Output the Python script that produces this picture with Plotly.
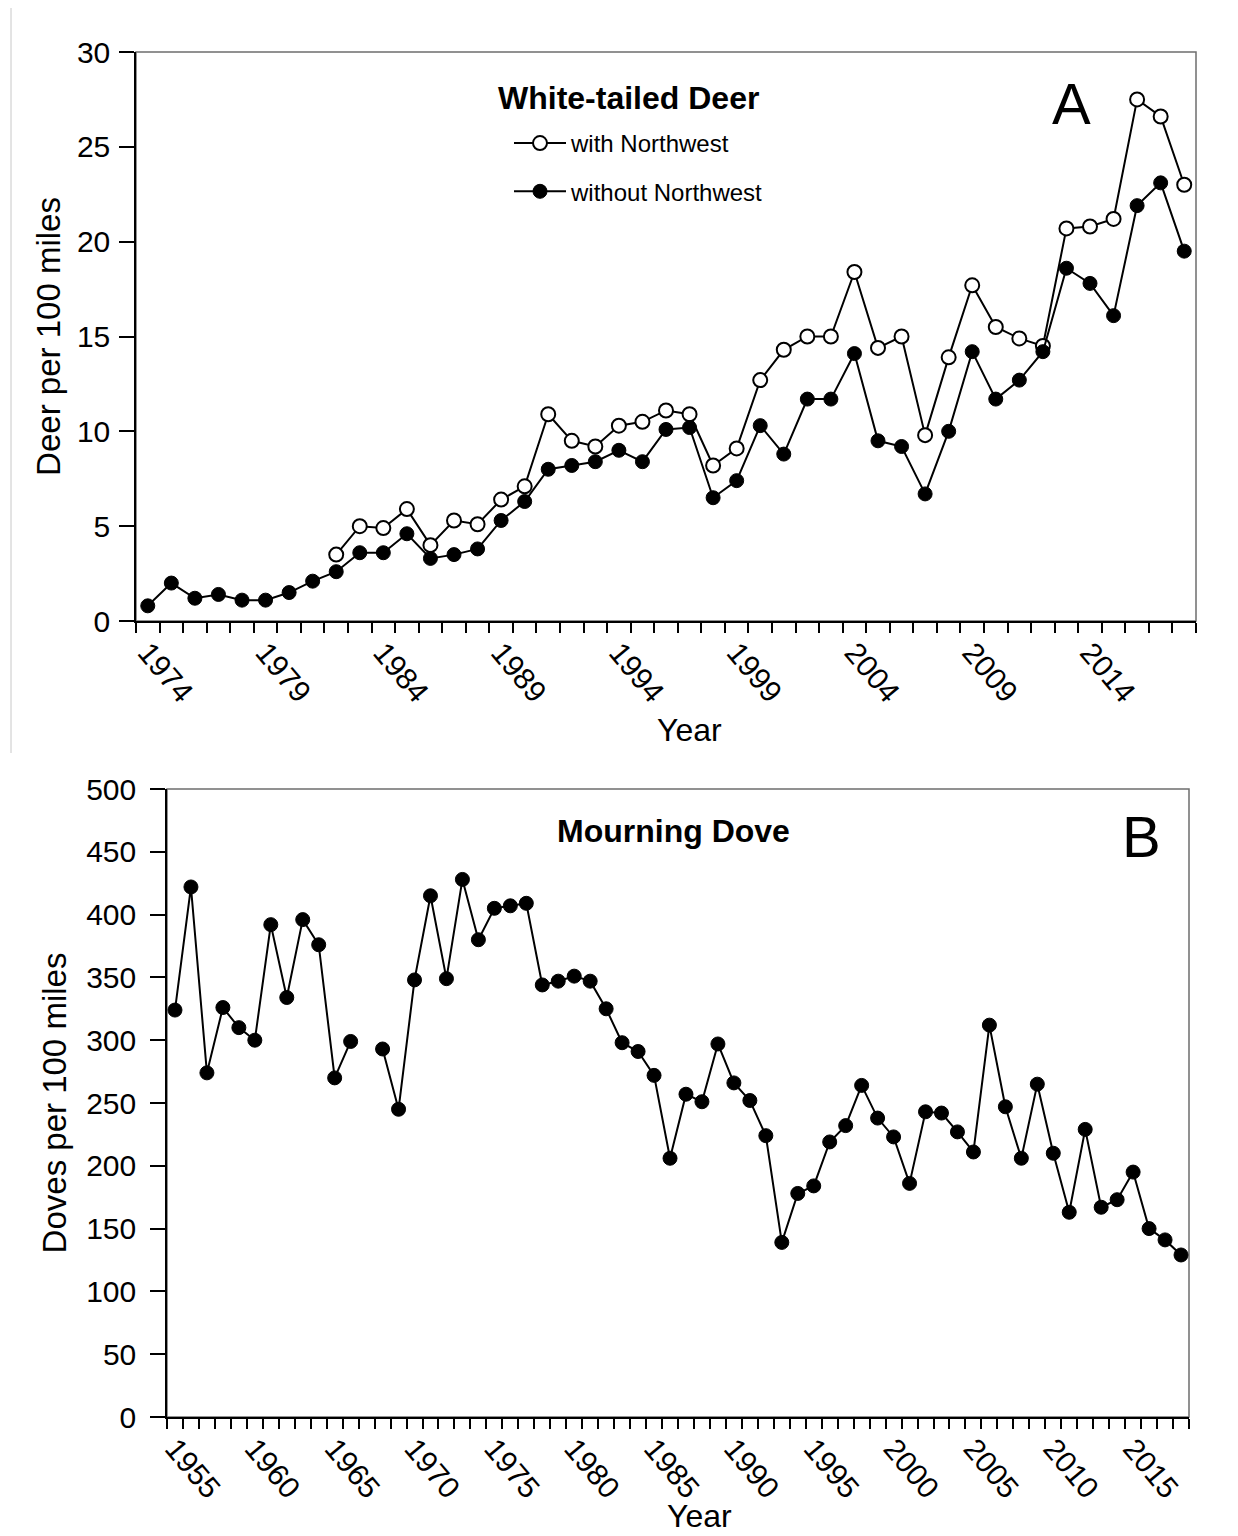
import plotly.graph_objects as go

# ---------------- data ----------------
deer_years = list(range(1974, 2019))
deer_without_nw = [0.8, 2.0, 1.2, 1.4, 1.1, 1.1, 1.5, 2.1, 2.6, 3.6,
                   3.6, 4.6, 3.3, 3.5, 3.8, 5.3, 6.3, 8.0, 8.2, 8.4,
                   9.0, 8.4, 10.1, 10.2, 6.5, 7.4, 10.3, 8.8, 11.7, 11.7,
                   14.1, 9.5, 9.2, 6.7, 10.0, 14.2, 11.7, 12.7, 14.2, 18.6,
                   17.8, 16.1, 21.9, 23.1, 19.5]
nw_years = list(range(1982, 2019))
deer_with_nw = [3.5, 5.0, 4.9, 5.9, 4.0, 5.3, 5.1, 6.4, 7.1, 10.9,
                9.5, 9.2, 10.3, 10.5, 11.1, 10.9, 8.2, 9.1, 12.7, 14.3,
                15.0, 15.0, 18.4, 14.4, 15.0, 9.8, 13.9, 17.7, 15.5, 14.9,
                14.5, 20.7, 20.8, 21.2, 27.5, 26.6, 23.0]

dove_years = list(range(1955, 2019))
dove_values = [324, 422, 274, 326, 310, 300, 392, 334, 396, 376,
               270, 299, None, 293, 245, 348, 415, 349, 428, 380,
               405, 407, 409, 344, 347, 351, 347, 325, 298, 291,
               272, 206, 257, 251, 297, 266, 252, 224, 139, 178,
               184, 219, 232, 264, 238, 223, 186, 243, 242, 227,
               211, 312, 247, 206, 265, 210, 163, 229, 167, 173,
               195, 150, 141, 129]

deer_tick_years = list(range(1974, 2015, 5))
dove_tick_years = list(range(1955, 2016, 5))

FONT = "Liberation Sans, Arial, sans-serif"
W, H = 1238, 1536

def px(x):
    return x / W

def py(y):
    return 1 - y / H

fig = go.Figure()

fig.add_trace(go.Scatter(
    x=nw_years, y=deer_with_nw, mode="lines+markers", name="with Northwest",
    line=dict(color="black", width=2),
    marker=dict(size=14, color="white", line=dict(color="black", width=2)),
    xaxis="x", yaxis="y", legendgroup="a"))
fig.add_trace(go.Scatter(
    x=deer_years, y=deer_without_nw, mode="lines+markers", name="without Northwest",
    line=dict(color="black", width=2),
    marker=dict(size=14, color="black", line=dict(color="black", width=1)),
    xaxis="x", yaxis="y", legendgroup="b"))
fig.add_trace(go.Scatter(
    x=dove_years, y=dove_values, mode="lines+markers", name="Mourning Dove",
    connectgaps=False, showlegend=False,
    line=dict(color="black", width=2),
    marker=dict(size=14, color="black", line=dict(color="black", width=1)),
    xaxis="x2", yaxis="y2"))

axis_common = dict(showgrid=False, zeroline=False, showline=True,
                   linecolor="black", linewidth=1.5, automargin=False)

fig.update_layout(
    width=W, height=H,
    margin=dict(l=0, r=0, t=0, b=0),
    paper_bgcolor="white", plot_bgcolor="white",
    font=dict(family=FONT, color="black"),
    showlegend=True,
    legend=dict(x=px(501), y=py(113), xanchor="left", yanchor="top",
                font=dict(size=24, family=FONT), bgcolor="rgba(0,0,0,0)",
                itemwidth=52, tracegroupgap=14, traceorder="grouped"),
    xaxis=dict(domain=[px(128), px(1188)], anchor="y", range=[1973.5, 2018.5],
               tickmode="array", tickvals=deer_tick_years,
               ticktext=[str(v) for v in deer_tick_years],
               ticks="", tickangle=50, tickfont=dict(size=30),
               minor=dict(ticks="outside", tickmode="linear", tick0=1973.5, dtick=1,
                          ticklen=10, tickwidth=1.5, tickcolor="black", showgrid=False),
               **axis_common),
    yaxis=dict(domain=[py(613), py(44)], anchor="x", range=[0, 30],
               tickmode="linear", tick0=0, dtick=5, ticks="outside", ticklen=15,
               tickwidth=1.5, tickcolor="black", tickfont=dict(size=30),
               ticklabelstandoff=3,
               title=dict(text="Deer per 100 miles", font=dict(size=33), standoff=6),
               **axis_common),
    xaxis2=dict(domain=[px(159), px(1181)], anchor="y2", range=[1954.5, 2018.5],
                tickmode="array", tickvals=dove_tick_years,
                ticktext=[str(v) for v in dove_tick_years],
                ticks="", tickangle=50, tickfont=dict(size=30),
                minor=dict(ticks="outside", tickmode="linear", tick0=1954.5, dtick=1,
                           ticklen=10, tickwidth=1.5, tickcolor="black", showgrid=False),
                **axis_common),
    yaxis2=dict(domain=[py(1409), py(781)], anchor="x2", range=[0, 500],
                tickmode="linear", tick0=0, dtick=50, ticks="outside", ticklen=15,
                tickwidth=1.5, tickcolor="black", tickfont=dict(size=30),
                ticklabelstandoff=8,
                title=dict(text="Doves per 100 miles", font=dict(size=33), standoff=10),
                **axis_common),
    shapes=[
        dict(type="rect", xref="x domain", yref="y domain", x0=0, x1=1, y0=0, y1=1,
             line=dict(color="#6e6e6e", width=1.5), layer="below"),
        dict(type="rect", xref="x2 domain", yref="y2 domain", x0=0, x1=1, y0=0, y1=1,
             line=dict(color="#6e6e6e", width=1.5), layer="below"),
        dict(type="line", xref="paper", yref="paper", x0=px(3), x1=px(3),
             y0=py(0), y1=py(745), line=dict(color="#c8c8c8", width=1)),
    ],
    annotations=[
        dict(text="<b>White-tailed Deer</b>", x=px(620), y=py(90), xref="paper", yref="paper",
             showarrow=False, font=dict(size=32, family=FONT), xanchor="center", yanchor="middle"),
        dict(text="A", x=px(1063), y=py(95), xref="paper", yref="paper",
             showarrow=False, font=dict(size=58, family=FONT), xanchor="center", yanchor="middle"),
        dict(text="Year", x=px(681), y=py(722), xref="paper", yref="paper",
             showarrow=False, font=dict(size=32, family=FONT), xanchor="center", yanchor="middle"),
        dict(text="<b>Mourning Dove</b>", x=px(665), y=py(823), xref="paper", yref="paper",
             showarrow=False, font=dict(size=32, family=FONT), xanchor="center", yanchor="middle"),
        dict(text="B", x=px(1133), y=py(828), xref="paper", yref="paper",
             showarrow=False, font=dict(size=58, family=FONT), xanchor="center", yanchor="middle"),
        dict(text="Year", x=px(691), y=py(1508), xref="paper", yref="paper",
             showarrow=False, font=dict(size=32, family=FONT), xanchor="center", yanchor="middle"),
    ],
)

fig.write_html("out.html")
